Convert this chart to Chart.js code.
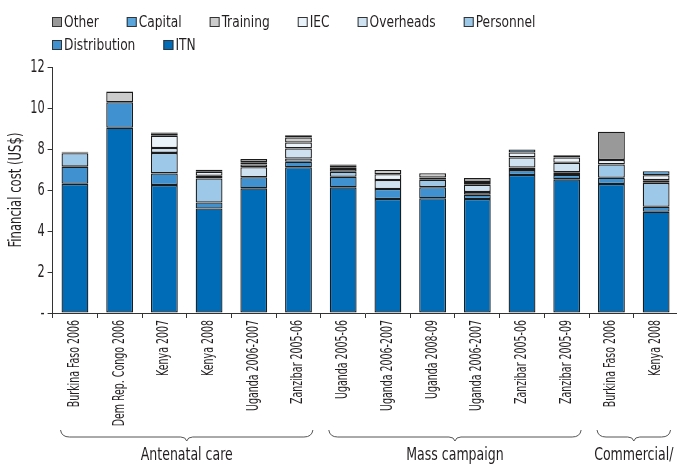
<!DOCTYPE html>
<html>
<head>
<meta charset="utf-8">
<script src="https://cdn.jsdelivr.net/npm/chart.js@4/dist/chart.umd.min.js"></script>
<style>
  html, body { margin: 0; padding: 0; background: #fff; overflow: hidden; }
  canvas { display: block; }
</style>
</head>
<body>
<canvas id="chart" width="700" height="465"></canvas>
<script>
// categories (x axis) and the programme groups they belong to
const categories = [
  'Burkina Faso 2006', 'Dem Rep. Congo 2006', 'Kenya 2007', 'Kenya 2008',
  'Uganda 2006-2007', 'Zanzibar 2005-06',
  'Uganda 2005-06', 'Uganda 2006-2007', 'Uganda 2008-09', 'Uganda 2006-2007',
  'Zanzibar 2005-06', 'Zanzibar 2005-09',
  'Burkina Faso 2006', 'Kenya 2008',
];
const groupLabels = ['Antenatal care', 'Mass campaign', 'Commercial/'];
const groupFirst = [0, 6, 12];
const groupLast = [5, 11, 13];

// cost components, US$ per net (stacked bottom -> top)
const itn = [6.30, 9.04, 6.24, 5.10, 6.08, 7.11, 6.13, 5.56, 5.60, 5.56, 6.73, 6.52, 6.29, 4.94];
const distribution = [0.84, 1.24, 0.57, 0.29, 0.54, 0.27, 0.52, 0.49, 0.54, 0.21, 0.24, 0.21, 0.31, 0.24];
const personnel = [0.65, 0, 1.00, 1.17, 0, 0.16, 0.24, 0, 0.36, 0.13, 0.13, 0.13, 0.65, 1.17];
const overheads = [0, 0, 0.24, 0.13, 0.49, 0.49, 0.14, 0.44, 0.11, 0.36, 0.49, 0.47, 0, 0.13];
const iec = [0, 0, 0.60, 0.20, 0.14, 0.29, 0.08, 0.28, 0, 0.13, 0.24, 0.26, 0.21, 0.24];
const training = [0.04, 0.52, 0.10, 0, 0.10, 0.24, 0.06, 0.21, 0.21, 0, 0, 0, 0, 0];
const capital = [0, 0, 0, 0, 0, 0.11, 0.04, 0, 0, 0, 0.15, 0.11, 0, 0.20];
const other = [0.04, 0, 0.06, 0.10, 0.16, 0, 0.04, 0, 0, 0.20, 0, 0, 1.38, 0];

const yTicks = [0, 2, 4, 6, 8, 10, 12];

const FONT = "'Liberation Sans Narrow', 'DejaVu Sans Condensed', 'Arial Narrow', sans-serif";
const INK = '#231f20';
// the original uses a very condensed face; squeeze the text we have
const SQUEEZE = 0.7;

const canvas = document.getElementById('chart');
const c2d = canvas.getContext('2d');
const meas = document.createElement('canvas').getContext('2d');
const nativeFill = c2d.fillText.bind(c2d);
c2d.fillText = (t, x, y, mw) => {
  meas.font = c2d.font;
  return nativeFill(t, x, y, mw ?? meas.measureText(t).width * SQUEEZE);
};

const mk = (label, data, color) => ({ label, data, backgroundColor: color });

const datasets = [
  mk('ITN', itn, '#006cb7'),
  mk('Distribution', distribution, '#3f92cf'),
  mk('Personnel', personnel, '#9dc8e7'),
  mk('Overheads', overheads, '#cfe2f2'),
  mk('IEC', iec, '#ebf3fa'),
  mk('Training', training, '#cccccc'),
  mk('Capital', capital, '#5aa6dc'),
  mk('Other', other, '#999999'),
];

// legend drawn by hand so the rows wrap like the original
const legendPlugin = {
  id: 'wrapLegend',
  afterDraw(chart) {
    const { ctx } = chart;
    const items = chart.data.datasets.slice().reverse();
    ctx.save();
    ctx.font = `16px ${FONT}`;
    ctx.textBaseline = 'middle';
    let x = 52;
    let y = 22;
    items.forEach((ds) => {
      const tw = ctx.measureText(ds.label).width * 0.85;
      const w = 12 + tw;
      if (x + w > 600) {
        x = 52;
        y += 23;
      }
      ctx.fillStyle = ds.backgroundColor;
      ctx.fillRect(x, y - 5, 10, 10);
      ctx.strokeStyle = '#333';
      ctx.lineWidth = 1;
      ctx.strokeRect(x + 0.5, y - 4.5, 9, 9);
      ctx.fillStyle = INK;
      ctx.fillText(ds.label, x + 12, y + 1, tw);
      x += w + 28;
    });
    ctx.restore();
  },
};

// curly braces + group names under the category labels
const bracePlugin = {
  id: 'groupBraces',
  afterDraw(chart) {
    const { ctx } = chart;
    const xs = chart.scales.x;
    const half = xs.width / categories.length * 0.3;
    const yb = 437;
    ctx.save();
    ctx.strokeStyle = '#555';
    ctx.lineWidth = 1;
    groupLabels.forEach((name, i) => {
      const x0 = xs.getPixelForValue(groupFirst[i]) - half - 1;
      const x1 = xs.getPixelForValue(groupLast[i]) + half + 1;
      const xm = (x0 + x1) / 2;
      ctx.beginPath();
      ctx.moveTo(x0, yb - 7);
      ctx.quadraticCurveTo(x0 + 1, yb, x0 + 9, yb);
      ctx.lineTo(xm - 6, yb);
      ctx.quadraticCurveTo(xm - 1, yb, xm, yb + 4);
      ctx.quadraticCurveTo(xm + 1, yb, xm + 6, yb);
      ctx.lineTo(x1 - 9, yb);
      ctx.quadraticCurveTo(x1 - 1, yb, x1, yb - 7);
      ctx.stroke();
      ctx.fillStyle = INK;
      ctx.font = `17px ${FONT}`;
      ctx.textAlign = 'center';
      ctx.textBaseline = 'middle';
      ctx.fillText(name, xm, 456, ctx.measureText(name).width * 0.82);
    });
    ctx.restore();
  },
};

new Chart(canvas, {
  type: 'bar',
  data: { labels: categories, datasets },
  options: {
    responsive: false,
    animation: false,
    layout: { padding: { top: 67, right: 21.5, bottom: 0, left: 0 } },
    datasets: {
      bar: {
        categoryPercentage: 1,
        barPercentage: 0.6,
        borderColor: '#1b1b1b',
        borderWidth: 1.3,
        borderSkipped: false,
      },
    },
    plugins: {
      legend: { display: false },
      tooltip: { enabled: false },
    },
    scales: {
      x: {
        stacked: true,
        afterFit(scale) { scale.height = 152; },
        grid: { drawOnChartArea: false, tickLength: 5, color: '#333' },
        border: { color: '#333', width: 1 },
        ticks: {
          minRotation: 90,
          maxRotation: 90,
          autoSkip: false,
          padding: 2,
          color: INK,
          font: { family: FONT, size: 15 },
        },
      },
      y: {
        stacked: true,
        min: 0,
        max: 12,
        afterFit(scale) { scale.width = 52.6; },
        afterBuildTicks(scale) { scale.ticks = yTicks.map((v) => ({ value: v })); },
        grid: { drawOnChartArea: false, tickLength: 5, color: '#333' },
        border: { color: '#333', width: 1 },
        title: {
          display: true,
          text: 'Financial cost (US$)',
          color: INK,
          font: { family: FONT, size: 18.5 },
          padding: { top: 5, bottom: 0 },
        },
        ticks: {
          padding: 3,
          color: INK,
          font: { family: FONT, size: 18 },
          callback: (v) => (v === 0 ? '-' : v),
        },
      },
    },
  },
  plugins: [legendPlugin, bracePlugin],
});
</script>
</body>
</html>
